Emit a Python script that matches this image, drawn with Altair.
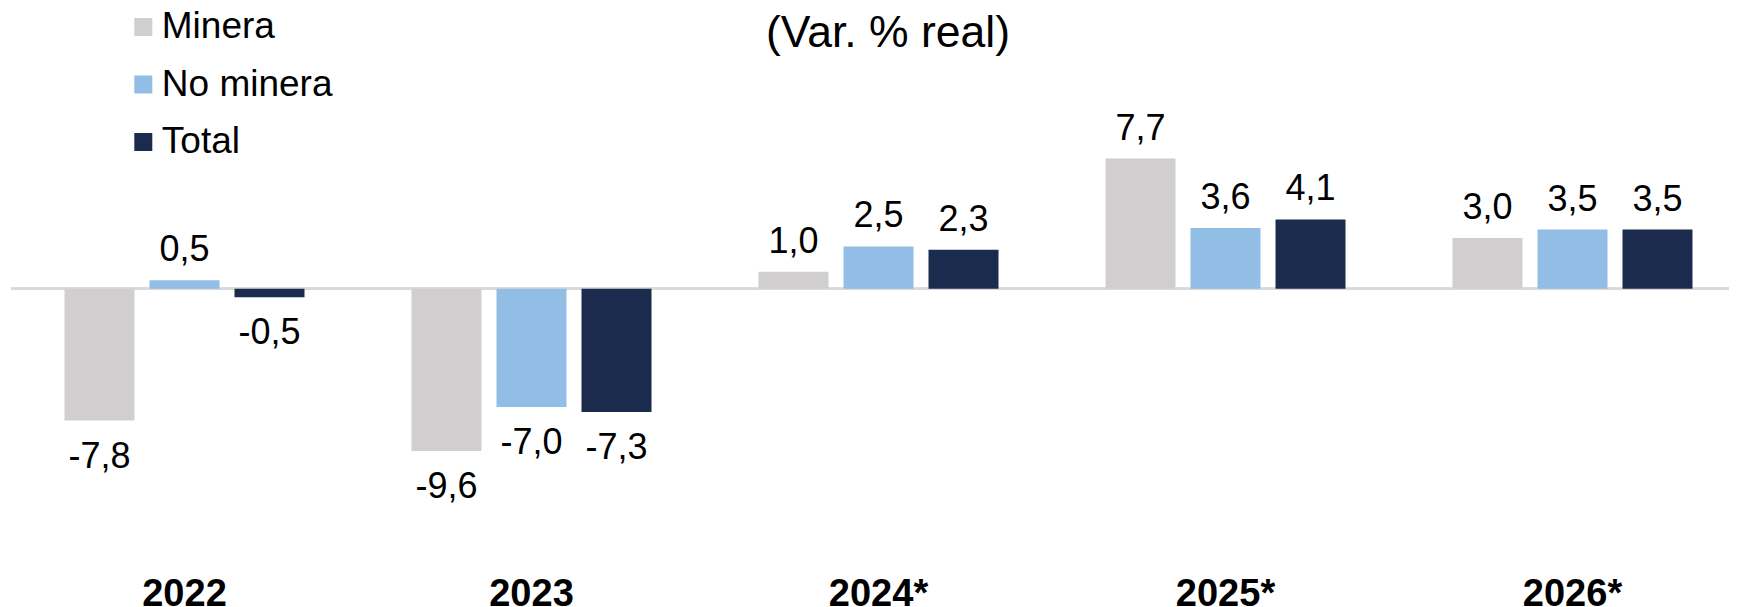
import altair as alt
import pandas as pd

years = ["2022", "2023", "2024*", "2025*", "2026*"]
series = ["Minera", "No minera", "Total"]
minera = [-7.8, -9.6, 1.0, 7.7, 3.0]
no_minera = [0.5, -7.0, 2.5, 3.6, 3.5]
total = [-0.5, -7.3, 2.3, 4.1, 3.5]
colors = ["#D0CECF", "#92BDE4", "#1B2B4D"]
title_text = "(Var. % real)"

rows = []
for i, y in enumerate(years):
    for s, vals in zip(series, [minera, no_minera, total]):
        rows.append({"year": y, "serie": s, "v": vals[i]})
df = pd.DataFrame(rows)
df["lab"] = [("-" if v < 0 else "") + f"{abs(v):.1f}".replace(".", ",") for v in df["v"]]
df["zero"] = 0.0

FONT = "Liberation Sans"
yscale = alt.Scale(domain=[-16.05, 16.61], nice=False, zero=False)

x_enc = alt.X("year:N", sort=years, title=None,
              scale=alt.Scale(paddingInner=0, paddingOuter=0),
              axis=alt.Axis(labelAngle=0, domain=False, ticks=False,
                            labelPadding=15.5, labelFontSize=38, labelFont=FONT,
                            labelFontWeight="bold", labelColor="black"))
xo_enc = alt.XOffset("serie:N", sort=series,
                     scale=alt.Scale(paddingInner=0.1765, paddingOuter=0.6294))
y_enc = alt.Y("v:Q", axis=None, scale=yscale)

base = alt.Chart(df)

rule = base.mark_rule(color="#D9D9D9", strokeWidth=2).encode(
    y=alt.Y("zero:Q", axis=None, scale=yscale)
)

bars = base.mark_bar(strokeWidth=0).encode(
    x=x_enc, xOffset=xo_enc, y=y_enc,
    y2="zero:Q",
    color=alt.Color("serie:N", sort=series,
                    scale=alt.Scale(domain=series, range=colors),
                    legend=alt.Legend(orient="none", legendX=113.8, legendY=0.5,
                                      title=None, symbolType="square", symbolSize=324,
                                      symbolStrokeWidth=0, labelFontSize=37,
                                      labelFont=FONT, labelColor="black",
                                      labelLimit=500,
                                      rowPadding=19.5, labelOffset=0, padding=0)),
)

pos = base.transform_filter("datum.v >= 0").mark_text(
    fontSize=36, font=FONT, color="black", baseline="alphabetic", dy=-19
).encode(x=x_enc, xOffset=xo_enc, y=y_enc, text="lab:N")

neg = base.transform_filter("datum.v < 0").mark_text(
    fontSize=36, font=FONT, color="black", baseline="alphabetic", dy=47
).encode(x=x_enc, xOffset=xo_enc, y=y_enc, text="lab:N")

chart = alt.layer(rule, bars, pos, neg).properties(
    width=1735, height=552,
    autosize=alt.AutoSizeParams(type="none"),
    padding={"left": 3, "top": 0, "right": -17, "bottom": 47},
    title=alt.TitleParams(text=title_text, fontSize=44.5, font=FONT, fontWeight="normal",
                          color="black", anchor="middle",
                          offset=-43, baseline="alphabetic", dy=40, dx=9.5),
).configure_view(stroke=None)

chart.save("out.html", embed_options={"renderer": "svg", "actions": False})
